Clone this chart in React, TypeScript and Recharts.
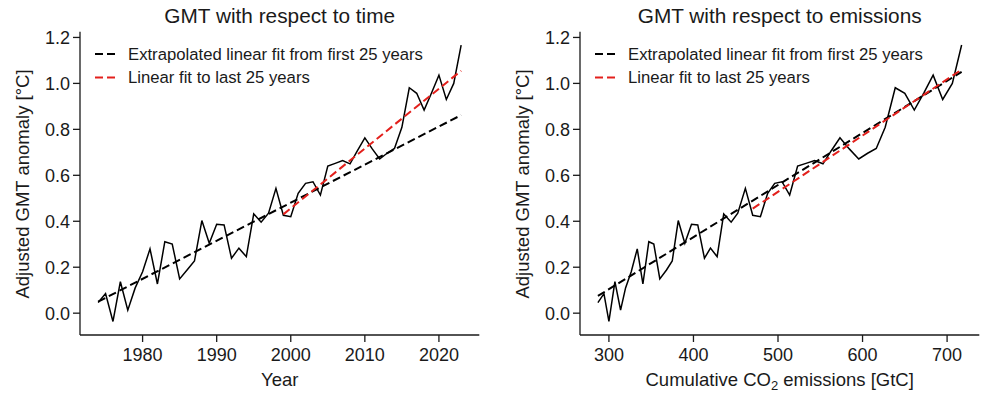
import React from "react";
import { LineChart, Line, XAxis, YAxis } from "recharts";

const FONT = '"Liberation Sans", Arial, Helvetica, sans-serif';
const INK = "#1a1a1a";
const RED = "#e3201c";

// years 1974..2023
const years = [
  1974, 1975, 1976, 1977, 1978, 1979, 1980, 1981, 1982, 1983,
  1984, 1985, 1986, 1987, 1988, 1989, 1990, 1991, 1992, 1993,
  1994, 1995, 1996, 1997, 1998, 1999, 2000, 2001, 2002, 2003,
  2004, 2005, 2006, 2007, 2008, 2009, 2010, 2011, 2012, 2013,
  2014, 2015, 2016, 2017, 2018, 2019, 2020, 2021, 2022, 2023,
];

// cumulative CO2 emissions [GtC] for each year
const emissions = [
  287.0, 294.1, 300.0, 307.1, 313.8, 319.7, 326.4, 333.5, 340.2, 347.2,
  353.1, 360.2, 368.1, 374.9, 382.0, 389.8, 397.7, 405.1, 413.0, 420.1,
  428.0, 435.8, 444.6, 452.4, 461.4, 470.1, 479.2, 487.8, 496.1, 504.8,
  513.8, 523.2, 533.1, 543.3, 553.2, 563.0, 573.3, 584.3, 595.5, 606.0,
  616.2, 626.8, 638.7, 650.0, 661.2, 672.4, 683.5, 694.8, 706.2, 717.2,
];

// adjusted GMT anomaly [°C]
const anomaly = [
  0.046, 0.085, -0.036, 0.137, 0.013, 0.11, 0.18, 0.28, 0.127, 0.311,
  0.301, 0.149, 0.188, 0.227, 0.403, 0.304, 0.387, 0.384, 0.239, 0.283,
  0.246, 0.432, 0.396, 0.435, 0.543, 0.426, 0.42, 0.522, 0.565, 0.572,
  0.514, 0.64, 0.652, 0.664, 0.65, 0.707, 0.763, 0.715, 0.671, 0.696,
  0.717, 0.809, 0.981, 0.957, 0.884, 0.958, 1.036, 0.93, 1.0, 1.167,
];

// fit line end points
const timeFitFirst = [
  { x: 1974, y: 0.05 },
  { x: 2023, y: 0.862 },
];
const timeFitLast = [
  { x: 1999, y: 0.43 },
  { x: 2023, y: 1.055 },
];
const emisFitFirst = [
  { x: 287.0, y: 0.075 },
  { x: 717.2, y: 1.05 },
];
const emisFitLast = [
  { x: 470.1, y: 0.455 },
  { x: 717.2, y: 1.06 },
];

const yTicks = [0, 0.2, 0.4, 0.6, 0.8, 1.0, 1.2];
const yearTicks = [1980, 1990, 2000, 2010, 2020];
const emisTicks = [300, 400, 500, 600, 700];

const timeData = years.map((yr, i) => ({ x: yr, y: anomaly[i] }));
const emisData = emissions.map((e, i) => ({ x: e, y: anomaly[i] }));

const W = 500;
const H = 400;
const CX = 279.7; // middle of plot area

function Panel({
  title,
  data,
  fitFirst,
  fitLast,
  xDomain,
  xTicks,
  xLabel,
}: {
  title: string;
  data: { x: number; y: number }[];
  fitFirst: { x: number; y: number }[];
  fitLast: { x: number; y: number }[];
  xDomain: [number, number];
  xTicks: number[];
  xLabel: React.ReactNode;
}) {
  const axisProps = {
    axisLine: { stroke: INK, strokeWidth: 1.3 },
    tickLine: { stroke: INK, strokeWidth: 1.3 },
    tickSize: 7,
    tick: { fill: INK, fontSize: 18, fontFamily: FONT },
  };
  return (
    <LineChart
      width={W}
      height={H}
      margin={{ top: 31.7, right: 20.7, bottom: 0, left: 20 }}
    >
      <XAxis
        type="number"
        dataKey="x"
        domain={xDomain}
        ticks={xTicks}
        interval={0}
        allowDataOverflow
        height={65}
        tickMargin={6}
        {...axisProps}
      />
      <YAxis
        type="number"
        dataKey="y"
        domain={[-0.095, 1.225]}
        ticks={yTicks}
        interval={0}
        allowDataOverflow
        width={60}
        tickMargin={3}
        tickFormatter={(v: number) => v.toFixed(1)}
        {...axisProps}
      />
      <Line
        data={data}
        dataKey="y"
        stroke="#000"
        strokeWidth={1.5}
        dot={false}
        isAnimationActive={false}
      />
      <Line
        data={fitFirst}
        dataKey="y"
        stroke="#000"
        strokeWidth={2}
        strokeDasharray="8 4"
        dot={false}
        isAnimationActive={false}
      />
      <Line
        data={fitLast}
        dataKey="y"
        stroke={RED}
        strokeWidth={2}
        strokeDasharray="8 4"
        dot={false}
        isAnimationActive={false}
      />

      <text x={CX} y={23} textAnchor="middle" fontSize={20.8} fontFamily={FONT} fill={INK}>
        {title}
      </text>
      <text
        x={29}
        y={184}
        transform="rotate(-90 29 184)"
        textAnchor="middle"
        fontSize={18.5}
        fontFamily={FONT}
        fill={INK}
      >
        Adjusted GMT anomaly [°C]
      </text>
      <text x={CX} y={385.5} textAnchor="middle" fontSize={18.5} fontFamily={FONT} fill={INK}>
        {xLabel}
      </text>

      {/* legend */}
      <g fontFamily={FONT} fontSize={16.7} fill={INK}>
        <line x1={95} x2={115} y1={54} y2={54} stroke="#000" strokeWidth={2} strokeDasharray="8 4" />
        <text x={128} y={59.8}>Extrapolated linear fit from first 25 years</text>
        <line x1={95} x2={115} y1={77.5} y2={77.5} stroke={RED} strokeWidth={2} strokeDasharray="8 4" />
        <text x={128} y={83.3}>Linear fit to last 25 years</text>
      </g>
    </LineChart>
  );
}

export default function App() {
  return (
    <div
      style={{
        position: "absolute",
        left: 0,
        top: 0,
        width: 1000,
        height: 400,
        display: "flex",
        background: "#fff",
      }}
    >
      <Panel
        title="GMT with respect to time"
        data={timeData}
        fitFirst={timeFitFirst}
        fitLast={timeFitLast}
        xDomain={[1971.55, 2025.45]}
        xTicks={yearTicks}
        xLabel="Year"
      />
      <Panel
        title="GMT with respect to emissions"
        data={emisData}
        fitFirst={emisFitFirst}
        fitLast={emisFitLast}
        xDomain={[265.8, 738.1]}
        xTicks={emisTicks}
        xLabel={
          <>
            <tspan>Cumulative CO</tspan>
            <tspan dy={4} fontSize={13}>2</tspan>
            <tspan dy={-4}> emissions [GtC]</tspan>
          </>
        }
      />
    </div>
  );
}
